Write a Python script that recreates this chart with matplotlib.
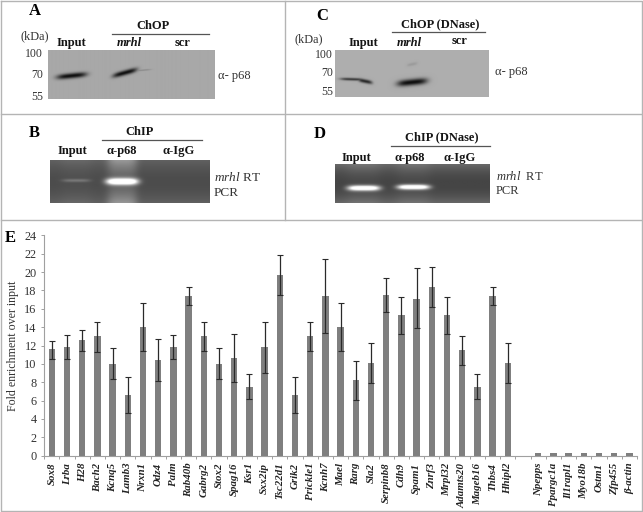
#!/usr/bin/env python3
import numpy as np
import matplotlib
matplotlib.use('Agg')
import matplotlib.pyplot as plt

plt.rcParams['font.family'] = ['Liberation Serif', 'DejaVu Serif']
plt.rcParams['mathtext.fontset'] = 'custom'
plt.rcParams['mathtext.it'] = 'Liberation Serif:italic'
plt.rcParams['mathtext.rm'] = 'Liberation Serif'

# bar chart values (panel E)
genes = ['Sox8', 'Lrba', 'H28', 'Bach2', 'Kcnq5', 'Lamb3', 'Nrxn1', 'Odz4', 'Palm', 'Rab40b',
         'Gabrg2', 'Stox2', 'Spag16', 'Ksr1', 'Sxx2ip', 'Tsc22d1', 'Grik2', 'Prickle1', 'Kcnh7',
         'Mael', 'Rarg', 'Sla2', 'Serpinb8', 'Cdh9', 'Spam1', 'Znrf3', 'Mrpl32', 'Adamts20',
         'Mageb16', 'Thbs4', 'Hhipl2', '', 'Npepps', 'Ppargc1a', 'Il1rapl1', 'Myo18b', 'Ostm1',
         'Zfp455', 'β-actin']
enrichment = [11.6, 11.8, 12.6, 13.0, 10.0, 6.6, 14.0, 10.4, 11.8, 17.4,
              13.0, 10.0, 10.6, 7.5, 11.8, 19.7, 6.6, 13.0, 17.4,
              14.0, 8.2, 10.1, 17.5, 15.3, 17.1, 18.4, 15.3, 11.5,
              7.5, 17.4, 10.1, 0, 0.3, 0.3, 0.3, 0.3, 0.3, 0.3, 0.3]
err_up = [0.9, 1.3, 1.1, 1.6, 1.7, 2.0, 2.6, 2.3, 1.3, 1.0,
          1.6, 1.7, 2.6, 1.35, 2.8, 2.15, 2.0, 1.55, 4.0,
          2.6, 2.15, 2.15, 1.9, 2.0, 3.3, 2.2, 2.0, 1.5,
          1.35, 1.0, 2.15, 0, 0, 0, 0, 0, 0, 0, 0]
err_down = [1.1, 1.3, 1.2, 1.7, 1.6, 1.9, 2.6, 2.3, 1.3, 1.0,
            1.6, 1.6, 2.6, 1.3, 2.8, 2.2, 1.9, 1.6, 4.0,
            2.6, 2.1, 2.15, 1.9, 2.0, 3.2, 2.2, 2.0, 1.6,
            1.3, 1.0, 2.15, 0, 0, 0, 0, 0, 0, 0, 0]
y_ticks = list(range(0, 26, 2))

# blot / gel bands: centre x, centre y, half width, half height, slope, strength
bands_a = [(71, 76, 15, 2.6, -0.10, 1.0), (124, 73, 12, 2.5, -0.27, 1.0), (141, 70.5, 9, 0.6, -0.08, 0.25)]
bands_c = [(352, 79, 12, 1.3, 0.03, 0.75), (365, 81, 7, 1.9, 0.2, 0.85),
           (412, 82, 15, 3.2, -0.10, 1.0), (412, 64, 5, 1.5, -0.2, 0.12)]
bands_b = [(76, 180.5, 14, 1.6, 0, 0.16), (122, 181.5, 16, 3.2, 0, 1.0)]
bands_d = [(363.5, 188.5, 16, 2.6, 0, 0.95), (413, 187.5, 16, 2.4, 0, 0.95)]
# lane glow in gels: centre x, half width, strength
glow_b = [(122, 15, 0.22), (76, 16, 0.03)]
glow_d = [(363, 17, 0.05), (413, 17, 0.05)]


def band_field(X, Y, bands):
    out = np.zeros_like(X)
    for cx, cy, sx, sy, slope, amp in bands:
        u = np.abs((X - cx) / sx)
        v = np.abs((Y - cy - slope * (X - cx)) / sy)
        out = np.maximum(out, amp * np.exp(-(u ** 4 + v ** 2)))
    return out


def blot(ax, ext, bands, base):
    X, Y = np.meshgrid(np.arange(ext[0], ext[1], 0.5), np.arange(ext[3], ext[2], 0.5))
    img = base - (base - 0.05) * band_field(X, Y, bands)
    ax.imshow(img, extent=ext, cmap='gray', vmin=0, vmax=1, aspect='auto', interpolation='bilinear', zorder=1)


def gel(ax, ext, bands, glow, base, edge):
    X, Y = np.meshgrid(np.arange(ext[0], ext[1], 0.5), np.arange(ext[3], ext[2], 0.5))
    # darker in the middle of the gel, lighter towards the top and bottom edge
    t = (Y - ext[3]) / (ext[2] - ext[3])
    img = base + edge * np.abs(2 * t - 1) ** 2
    for cx, sx, amp in glow:
        img = img + amp * np.exp(-np.abs((X - cx) / sx) ** 4) * (0.35 + 0.65 * np.abs(2 * t - 1) ** 1.5)
    img = img + band_field(X, Y, bands)
    ax.imshow(np.clip(img, 0, 1), extent=ext, cmap='gray', vmin=0, vmax=1, aspect='auto', interpolation='bilinear', zorder=1)


fig = plt.figure(figsize=(6.43, 5.12), dpi=100, facecolor='white')

# overlay in pixel coordinates for the photo panels
ov = fig.add_axes([0, 0, 1, 1])
ov.set_xlim(0, 643)
ov.set_ylim(512, 0)
ov.axis('off')

blot(ov, (47.5, 214, 99.5, 50.5), bands_a, 0.66)
blot(ov, (335, 489, 97, 50), bands_c, 0.68)
gel(ov, (50, 210, 203, 160.5), bands_b, glow_b, 0.30, 0.08)
gel(ov, (335, 489.5, 203.5, 165), bands_d, glow_d, 0.27, 0.14)
ov.set_xlim(0, 643)
ov.set_ylim(512, 0)

# panel frame
frame = '#b4b4b4'
for xs, ys in [([1, 642, 642, 1, 1], [1, 1, 511, 511, 1]), ([1, 642], [114, 114]),
               ([1, 642], [220, 220]), ([284.5, 284.5], [1, 220])]:
    ov.plot(xs, ys, color=frame, lw=1.0, zorder=0)

# group lines
for xs, y in [((112, 209), 33.5), ((102, 202), 139.5), ((392, 485), 31.5), ((390.5, 490), 145.5)]:
    ov.plot(xs, [y, y], color='#555555', lw=0.9)


def label(x, y, s, size=9, **kw):
    ov.text(x, y, s, fontsize=size, ha=kw.pop('ha', 'center'), va='center', color=kw.pop('color', '#151515'), **kw)


for x, y, s in [(35, 11, 'A'), (34, 133, 'B'), (322, 16, 'C'), (320, 134, 'D'), (10, 238, 'E')]:
    label(x, y, s, size=12, weight='bold', color='black')

# panel A
label(35, 36, '(kDa)', size=8.8, color='#333333')
for y, s in [(54, '100'), (75, '70'), (96.5, '55')]:
    label(43, y, s, size=8.5, ha='right', color='#333333')
label(153, 26, 'ChOP', weight='bold')
label(71, 43, 'Input', weight='bold')
label(129, 43, 'mrhl', weight='bold', style='italic')
label(183, 43, 'scr', weight='bold')
label(218, 76.5, 'α- p68', size=9, ha='left', color='#333333')

# panel B
label(140, 132, 'ChIP', weight='bold')
label(72, 151, 'Input', weight='bold')
label(122, 151, 'α-p68', weight='bold')
label(179, 151, 'α-IgG', weight='bold')
label(214, 177.5, r'$\mathit{mrhl}$ RT', size=9.5, ha='left', color='#333333')
label(214, 193, 'PCR', size=9.5, ha='left', color='#333333')

# panel C
label(309, 39, '(kDa)', size=8.8, color='#333333')
for y, s in [(55, '100'), (73.5, '70'), (92, '55')]:
    label(333, y, s, size=8.5, ha='right', color='#333333')
label(440, 24.5, 'ChOP (DNase)', weight='bold')
label(363, 43, 'Input', weight='bold')
label(409, 43, 'mrhl', weight='bold', style='italic')
label(460, 41, 'scr', weight='bold')
label(495, 72, 'α- p68', size=9, ha='left', color='#333333')

# panel D
label(442, 137, 'ChIP (DNase)', weight='bold')
label(356, 158, 'Input', weight='bold')
label(410, 158, 'α-p68', weight='bold')
label(460, 158, 'α-IgG', weight='bold')
label(496, 177, r'$\mathit{mrhl}$  RT', size=9, ha='left', color='#333333')
label(496, 191, 'PCR', size=9, ha='left', color='#333333')

# panel E bar chart, axes box given in figure pixels
ax = fig.add_axes([44.3 / 643, (512 - 455.7) / 512, (637 - 44.3) / 643, (455.7 - 235.3) / 512])
ax.patch.set_alpha(0)
pos = np.arange(len(genes))
ax.bar(pos, enrichment, width=0.42, color='#7f7f7f', linewidth=0)
mask = np.array(err_up) > 0
ax.errorbar(pos[mask], np.array(enrichment)[mask],
            yerr=[np.array(err_down)[mask], np.array(err_up)[mask]],
            fmt='none', ecolor='#2a2a2a', elinewidth=0.9, capsize=2.4, capthick=0.8)
ax.set_xlim(-0.5, len(genes) - 0.5)
ax.set_ylim(0, 24)
ax.set_yticks(y_ticks)
ax.set_xticks(np.arange(-0.5, len(genes), 1))
ax.set_xticklabels([])
ax.set_xticks(pos, minor=True)
ax.set_xticklabels(genes, minor=True, rotation=90, fontsize=7.8, fontweight='bold', fontstyle='italic', color='#222222')
ax.tick_params(axis='x', which='major', length=2.5, width=0.7, color='#a0a0a0')
ax.tick_params(axis='x', which='minor', length=0, pad=5)
ax.tick_params(axis='y', length=2.5, width=0.7, color='#a0a0a0', labelsize=8.8, labelcolor='#333333', pad=3)
ax.set_ylabel('Fold enrichment over input', fontsize=8.6, color='#333333', labelpad=4)
for side in ['top', 'right']:
    ax.spines[side].set_visible(False)
for side in ['left', 'bottom']:
    ax.spines[side].set_color('#a0a0a0')
    ax.spines[side].set_linewidth(0.8)

fig.savefig('out.png', dpi=100)
